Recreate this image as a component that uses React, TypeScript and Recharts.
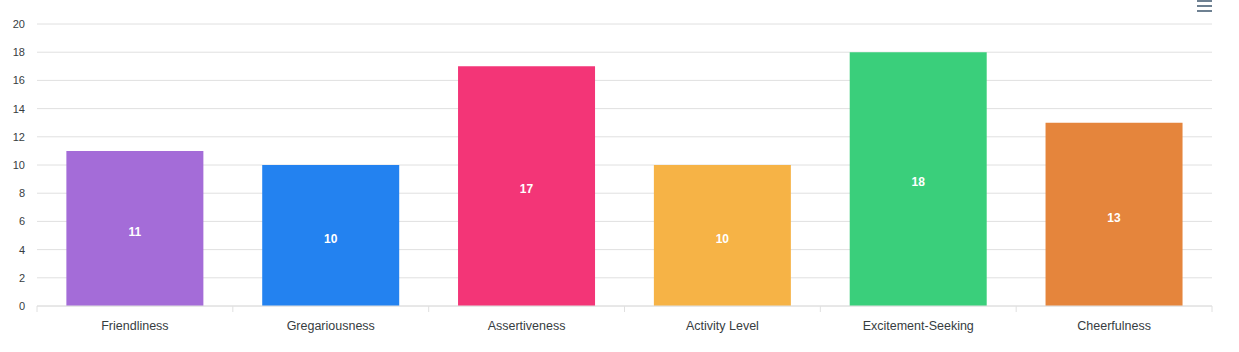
import { BarChart, Bar, XAxis, YAxis, CartesianGrid, LabelList, Cell } from 'recharts';

const categories = ['Friendliness', 'Gregariousness', 'Assertiveness', 'Activity Level', 'Excitement-Seeking', 'Cheerfulness'];
const scores = [11, 10, 17, 10, 18, 13];
const barColors = ['#A46CD8', '#2382F0', '#F33577', '#F6B346', '#3ACF7B', '#E5853C'];
const yTicks = [0, 2, 4, 6, 8, 10, 12, 14, 16, 18, 20];

const W = 1239;
const H = 352;
const X_AXIS_H = 30;
const MARGIN = { top: 24, right: 27, bottom: 46 - X_AXIS_H, left: 0 };
const Y_AXIS_W = 37;
const BAND = (W - MARGIN.right - Y_AXIS_W) / categories.length;

// boundary tick marks like the original (ticks between categories, not under them)
const CategoryTick = ({ x, y, payload, index }: any) => {
  const half = BAND / 2;
  return (
    <g>
      <line x1={x - half} x2={x - half} y1={y - 8} y2={y - 2} stroke="#e0e0e0" />
      {index === categories.length - 1 && (
        <line x1={x + half} x2={x + half} y1={y - 8} y2={y - 2} stroke="#e0e0e0" />
      )}
      <text x={x} y={y + 16} textAnchor="middle" fill="#373d3f" fontSize={12.5}>
        {payload.value}
      </text>
    </g>
  );
};

export default function App() {
  const data = categories.map((name, i) => ({ name, value: scores[i] }));

  return (
    <div style={{ position: 'absolute', left: 0, top: 0, width: W, height: H, fontFamily: '"Liberation Sans", Arial, sans-serif', background: '#fff' }}>
      <BarChart width={W} height={H} data={data} margin={MARGIN} barCategoryGap="15%">
        <CartesianGrid vertical={false} stroke="#e0e0e0" />
        <XAxis
          dataKey="name"
          height={X_AXIS_H}
          axisLine={{ stroke: '#e0e0e0' }}
          tickLine={false}
          tick={<CategoryTick />}
          interval={0}
          tickSize={6}
        />
        <YAxis
          domain={[0, 20]}
          ticks={yTicks}
          width={Y_AXIS_W}
          axisLine={false}
          tickLine={false}
          tickSize={0}
          tickMargin={12}
          tick={{ fill: '#373d3f', fontSize: 11 }}
        />
        <Bar dataKey="value" isAnimationActive={false}>
          {data.map((_, i) => (
            <Cell key={`cell-${i}`} fill={barColors[i]} />
          ))}
          <LabelList dataKey="value" position="center" fill="#fff" fontSize={12} fontWeight="bold" dy={3} />
        </Bar>
      </BarChart>
      {/* menu icon */}
      <div style={{ position: 'absolute', left: 1197, top: 0, width: 15 }}>
        {[0, 1, 2].map((i) => (
          <div key={i} style={{ height: 2, background: '#6E8192', marginBottom: i < 2 ? 3 : 0 }} />
        ))}
      </div>
    </div>
  );
}
